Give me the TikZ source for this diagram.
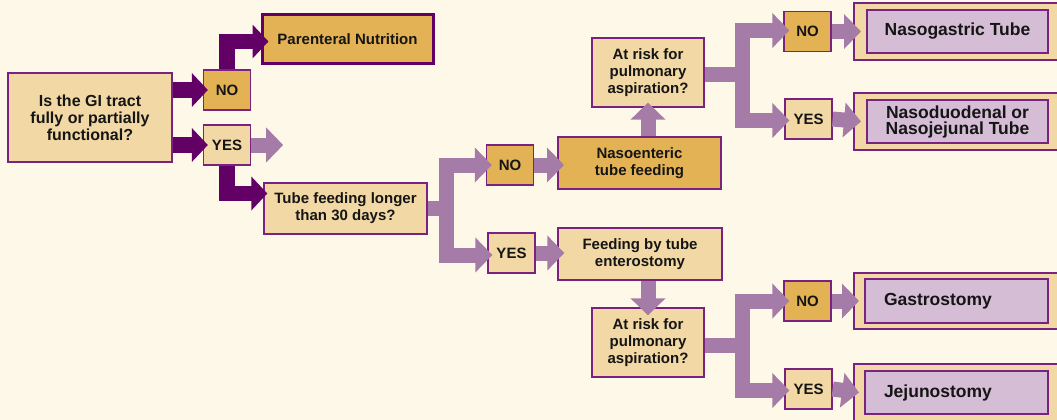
\documentclass[tikz,border=0pt]{standalone}
\usepackage{fontspec}
\setmainfont{Liberation Sans}
\usetikzlibrary{arrows.meta}
\definecolor{bgc}{HTML}{FEF8E9}
\definecolor{tanc}{HTML}{F2D8A5}
\definecolor{orc}{HTML}{E2B254}
\definecolor{lilc}{HTML}{D5BDD6}
\definecolor{darkarr}{HTML}{620065}
\definecolor{lightarr}{HTML}{A57BA7}
\definecolor{bordc}{HTML}{7A2280}
\definecolor{txtc}{HTML}{151515}
\tikzset{
  box/.style={draw=bordc, line width=1.3pt, inner sep=0pt, align=center, text=txtc,
    font=\bfseries\fontsize{15}{16.8}\selectfont},
  tanbox/.style={box, fill=tanc},
  orbox/.style={box, fill=orc},
  yn/.style={box, minimum width=47pt, minimum height=40pt, font=\bfseries\fontsize{16}{18}\selectfont},
  outerbox/.style={draw=bordc, line width=1.2pt, fill=tanc, inner sep=0pt},
  innerbox/.style={box, fill=lilc, line width=2pt, font=\bfseries\fontsize{17.5}{16}\selectfont},
  dk/.style={draw=darkarr, line width=15.5pt, line join=miter,
    -{Triangle[width=33pt,length=16pt]}},
  lt/.style={draw=lightarr, line width=15pt, line join=miter,
    -{Triangle[width=34pt,length=17pt]}},
}
\begin{document}
\begin{tikzpicture}[x=1pt,y=-1pt]
\fill[bgc] (0,0) rectangle (1057,420);
\useasboundingbox (0,0) rectangle (1057,420);

% left part
\node[tanbox, minimum width=164pt, minimum height=89pt,
  font=\bfseries\fontsize{16}{17}\selectfont] (q) at (90,117.5)
  {Is the GI tract\\fully or partially\\functional?};
\node[yn, orbox] (no1) at (227,90) {NO};
\node[yn, tanbox] (yes1) at (227,145) {YES};
\node[orbox, line width=3pt, draw=darkarr, minimum width=171pt, minimum height=49pt] (pn) at (347.5,39.5)
  {Parenteral Nutrition};
\node[tanbox, minimum width=163pt, minimum height=51pt] (tf) at (345.5,208.5)
  {Tube feeding longer\\than 30 days?};

% middle part
\node[yn, orbox] (no2) at (510,165) {NO};
\node[yn, tanbox] (yes2) at (511.5,253) {YES};
\node[orbox, line width=2pt, minimum width=163pt, minimum height=52pt] (ne) at (639.5,163)
  {Nasoenteric\\tube feeding};
\node[tanbox, minimum width=164pt, minimum height=52pt] (fb) at (640,254)
  {Feeding by tube\\enterostomy};
\node[tanbox, minimum width=112pt, minimum height=69pt] (ar1) at (648,72.5)
  {At risk for\\pulmonary\\aspiration?};
\node[tanbox, minimum width=112pt, minimum height=69pt] (ar2) at (648,342.5)
  {At risk for\\pulmonary\\aspiration?};

% right part
\node[yn, orbox] (no3) at (807.5,31.5) {NO};
\node[yn, tanbox] (yes3) at (808.5,119) {YES};
\node[yn, orbox] (no4) at (807.5,301) {NO};
\node[yn, tanbox] (yes4) at (808.5,389) {YES};

\node[outerbox, minimum width=210pt, minimum height=57pt] (ngo) at (959,31.5) {};
\node[outerbox, minimum width=210pt, minimum height=57pt] (ndo) at (959,121.5) {};
\node[outerbox, minimum width=210pt, minimum height=56pt] (gso) at (959,301) {};
\node[outerbox, minimum width=210pt, minimum height=64pt] (jjo) at (959,396) {};

\node[innerbox, minimum width=181pt, minimum height=43pt] (ngi) at (957.5,31.5) {Nasogastric Tube};
\node[innerbox, minimum width=181pt, minimum height=43pt] (ndi) at (957.5,121.5)
  {Nasoduodenal or\\Nasojejunal Tube};
\node[innerbox, minimum height=44pt, inner xsep=19pt, text width=145pt, align=left] (gsi) at (956.5,301)
  {Gastrostomy};
\node[innerbox, minimum height=43pt, inner xsep=19pt, text width=145pt, align=left] (jji) at (956.5,392.5)
  {Jejunostomy};

% dark connectors
\draw[dk] (q.east |- no1.west) -- ([xshift=5]no1.west);
\draw[dk] (q.east |- yes1.west) -- ([xshift=5]yes1.west);
\draw[dk] (no1.north) |- ([xshift=8,yshift=-2]pn.west);
\draw[dk] (yes1.south) |- ([xshift=4,yshift=15]tf.west);

% light connectors
\coordinate (stub) at ([xshift=32]yes1.east);
\draw[lt] (yes1.east) -- (stub);

\coordinate (br1) at ([xshift=19]tf.east);
\draw[lt] (tf.east) -- (br1) |- ([xshift=6]no2.west);
\draw[lt] (tf.east) -- (br1) |- ([xshift=5,yshift=-2]yes2.west);
\draw[lt] (no2.east) -- ([xshift=7]ne.west |- no2.east);
\draw[lt] (yes2.east) -- ([xshift=7]fb.west |- yes2.east);
\draw[lt] (ar1.south |- ne.north) -- ([yshift=5]ar1.south);
\draw[lt] (ar2.north |- fb.south) -- ([yshift=-8]ar2.north);

\coordinate (br2) at ([xshift=37.5,yshift=-2]ar1.east);
\draw[lt] ([yshift=-2]ar1.east) -- (br2) |- ([xshift=6,yshift=1]no3.west);
\draw[lt] ([yshift=-2]ar1.east) -- (br2) |- ([xshift=5,yshift=-1.5]yes3.west);
\draw[lt] (no3.east) -- ([xshift=-5]ngi.west);
\draw[lt] (yes3.east) -- ([xshift=-5]ndi.west);

\coordinate (br3) at ([xshift=37.5,yshift=-3]ar2.east);
\draw[lt] ([yshift=-3]ar2.east) -- (br3) |- ([xshift=6]no4.west);
\draw[lt] ([yshift=-3]ar2.east) -- (br3) |- ([xshift=5,yshift=-1.5]yes4.west);
\draw[lt] (no4.east) -- ([xshift=-5]gsi.west);
\draw[lt] (yes4.east) -- ([xshift=-5]jji.west);
\end{tikzpicture}
\end{document}
